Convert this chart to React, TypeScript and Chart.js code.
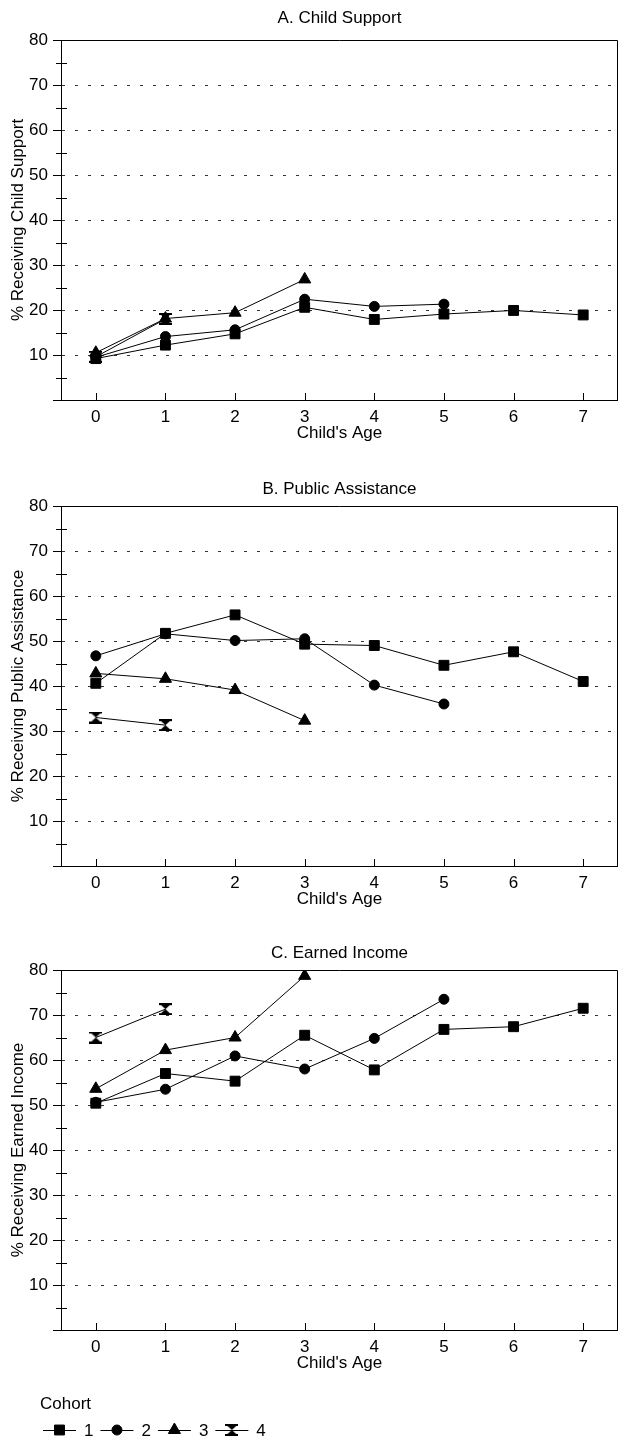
import { useEffect, useRef } from 'react';
import { Chart, registerables } from 'chart.js';
import { drawPoint } from 'chart.js/helpers';

Chart.register(...registerables);

// Child's age (x axis categories) and cohort names
const ages = ['0', '1', '2', '3', '4', '5', '6', '7'];
const cohortLabels = ['1', '2', '3', '4'];

// Minor tick positions on the percentage axis
const yMinorTicks = [5, 15, 25, 35, 45, 55, 65, 75];

// A. Child Support (% receiving), by cohort
const supportCohort1 = [9.2, 12.2, 14.7, 20.6, 17.9, 19.1, 19.9, 18.9];
const supportCohort2 = [9.5, 14.1, 15.6, 22.4, 20.8, 21.3];
const supportCohort3 = [10.5, 18.1, 19.4, 26.8];
const supportCohort4 = [9.6, 18.0];

// B. Public Assistance (% receiving), by cohort
const assistCohort1 = [40.6, 51.7, 55.8, 49.3, 49.0, 44.6, 47.6, 41.0];
const assistCohort2 = [46.7, 51.6, 50.1, 50.5, 40.2, 36.0];
const assistCohort3 = [42.8, 41.6, 39.1, 32.3];
const assistCohort4 = [33.0, 31.3];

// C. Earned Income (% receiving), by cohort
const earnedCohort1 = [50.4, 57.0, 55.3, 65.5, 57.8, 66.8, 67.4, 71.5];
const earnedCohort2 = [50.6, 53.5, 60.9, 58.0, 64.8, 73.5];
const earnedCohort3 = [53.6, 62.2, 65.0, 78.7];
const earnedCohort4 = [65.0, 71.3];

const FONT_FAMILY = "'Liberation Sans', Arial, Helvetica, sans-serif";
const FONT_SIZE = 17;
const LINE_H = FONT_SIZE * 1.2;
const WIDTH = 618;

// Filled hourglass marker used for cohort 4
function makeHourglass(): HTMLCanvasElement {
  const c = document.createElement('canvas');
  c.width = 13;
  c.height = 12;
  const g = c.getContext('2d')!;
  g.fillStyle = '#000';
  g.beginPath();
  g.moveTo(0.5, 0.5);
  g.lineTo(12.5, 0.5);
  g.lineTo(6.5, 6);
  g.lineTo(12.5, 11.5);
  g.lineTo(0.5, 11.5);
  g.lineTo(6.5, 6);
  g.closePath();
  g.fill();
  g.fillRect(0, 0, 13, 2);
  g.fillRect(0, 10, 13, 2);
  return c;
}

// Box frame, minor y ticks and inward x ticks
const framePlugin = {
  id: 'frame',
  beforeDatasetsDraw(chart: any) {
    const { ctx, chartArea: a, scales } = chart;
    const xs = scales.x;
    const ys = scales.y;
    ctx.save();
    ctx.strokeStyle = '#000';
    ctx.lineWidth = 1;
    ctx.beginPath();
    ctx.moveTo(a.left, a.top + 0.5);
    ctx.lineTo(a.right - 0.5, a.top + 0.5);
    ctx.lineTo(a.right - 0.5, a.bottom);
    for (const v of yMinorTicks) {
      const py = Math.round(ys.getPixelForValue(v)) + 0.5;
      ctx.moveTo(a.left - 5, py);
      ctx.lineTo(a.left + 6, py);
    }
    ages.forEach((_, i) => {
      const px = Math.round(xs.getPixelForValue(i)) + 0.5;
      ctx.moveTo(px, a.bottom);
      ctx.lineTo(px, a.bottom - 7);
    });
    ctx.stroke();
    ctx.restore();
  },
};

// "Cohort" key with line-and-marker swatches
const cohortLegend = {
  id: 'cohortLegend',
  afterDraw(chart: any) {
    const ctx = chart.ctx;
    const base = chart.chartArea.bottom;
    ctx.save();
    ctx.fillStyle = '#000';
    ctx.strokeStyle = '#000';
    ctx.lineWidth = 1;
    ctx.font = `${FONT_SIZE}px ${FONT_FAMILY}`;
    ctx.textBaseline = 'middle';
    ctx.textAlign = 'left';
    ctx.fillText('Cohort', 40, base + 74);
    const y = base + 100;
    let x = 43;
    chart.data.datasets.forEach((ds: any, i: number) => {
      const el = chart.getDatasetMeta(i).data[0];
      const o = el.options;
      ctx.beginPath();
      ctx.moveTo(x, y + 0.5);
      ctx.lineTo(x + 33, y + 0.5);
      ctx.stroke();
      drawPoint(ctx, { pointStyle: o.pointStyle, radius: o.radius, rotation: 0, borderWidth: o.borderWidth }, x + 16.5, y);
      ctx.fillText(ds.label, x + 41, y + 1);
      x += 41 + ctx.measureText(ds.label).width + 7;
    });
    ctx.restore();
  },
};

type PanelProps = {
  title: string;
  yTitle: string;
  series: number[][];
  top: number;
  height: number;
  titleCenter: number;
  withLegend?: boolean;
};

function Panel({ title, yTitle, series, top, height, titleCenter, withLegend }: PanelProps) {
  const ref = useRef<HTMLCanvasElement>(null);

  useEffect(() => {
    const canvas = ref.current;
    if (!canvas) return;
    const font = { family: FONT_FAMILY, size: FONT_SIZE, lineHeight: 1.2, weight: 'normal' };
    const hourglass = makeHourglass();
    const markers: any[] = [
      { pointStyle: 'rect', pointRadius: 7 },
      { pointStyle: 'circle', pointRadius: 5 },
      { pointStyle: 'triangle', pointRadius: 7 },
      { pointStyle: hourglass, pointRadius: 6 },
    ];
    const titleTop = titleCenter - LINE_H / 2;

    const chart = new Chart(canvas, {
      type: 'line',
      data: {
        labels: ages,
        datasets: series.map((values, i) => ({
          label: cohortLabels[i],
          data: values,
          borderColor: '#000',
          borderWidth: 1,
          backgroundColor: '#000',
          pointBackgroundColor: '#000',
          pointBorderColor: '#000',
          pointBorderWidth: 1,
          pointStyle: markers[i].pointStyle,
          pointRadius: markers[i].pointRadius,
          pointHoverRadius: markers[i].pointRadius,
          tension: 0,
          fill: false,
        })),
      },
      options: {
        responsive: false,
        animation: false,
        devicePixelRatio: 1,
        events: [],
        layout: { autoPadding: false, padding: { left: 0, right: 0, top: 0, bottom: height - 445 } },
        plugins: {
          legend: { display: false },
          tooltip: { enabled: false },
          title: {
            display: true,
            text: title,
            color: '#000',
            font,
            fullSize: false,
            padding: { top: titleTop, bottom: 40 - titleTop - LINE_H },
          },
        },
        scales: {
          x: {
            type: 'category',
            offset: true,
            ticks: { color: '#000', font, padding: 17 - LINE_H / 2, autoSkip: false, maxRotation: 0 },
            grid: { display: false, drawTicks: false },
            border: { display: true, color: '#000', width: 1 },
            title: { display: true, text: "Child's Age", color: '#000', font, padding: { top: 0, bottom: 12 - LINE_H / 2 } },
            afterFit: (s: any) => {
              s.height = 45;
              s.paddingLeft = 0;
              s.paddingRight = 0;
            },
          },
          y: {
            min: 0,
            max: 80,
            ticks: {
              stepSize: 10,
              color: '#000',
              font,
              padding: 5,
              callback: (v: any) => (Number(v) === 0 ? '' : String(v)),
            },
            grid: {
              color: (c: any) => (c.tick && c.tick.value > 0 && c.tick.value < 80 ? '#333' : 'rgba(0,0,0,0)'),
              tickColor: '#000',
              tickLength: 8,
              drawTicks: true,
              lineWidth: 1,
            },
            border: { display: true, color: '#000', width: 1, dash: [3, 10] },
            title: { display: true, text: yTitle, color: '#000', font, padding: { top: 18 - LINE_H / 2, bottom: 0 } },
            afterFit: (s: any) => {
              s.width = 61;
            },
          },
        },
      },
      plugins: withLegend ? [framePlugin, cohortLegend] : [framePlugin],
    } as any);

    return () => chart.destroy();
  }, [title, yTitle, series, height, titleCenter, withLegend]);

  return (
    <canvas
      ref={ref}
      width={WIDTH}
      height={height}
      style={{ position: 'absolute', left: 0, top, width: WIDTH, height, display: 'block' }}
    />
  );
}

const supportSeries = [supportCohort1, supportCohort2, supportCohort3, supportCohort4];
const assistSeries = [assistCohort1, assistCohort2, assistCohort3, assistCohort4];
const earnedSeries = [earnedCohort1, earnedCohort2, earnedCohort3, earnedCohort4];

export default function App() {
  return (
    <div style={{ position: 'absolute', left: 0, top: 0, width: WIDTH, height: 1439, background: '#fff' }}>
      <Panel title="A. Child Support" yTitle="% Receiving Child Support" series={supportSeries} top={0} height={466} titleCenter={18} />
      <Panel title="B. Public Assistance" yTitle="% Receiving Public Assistance" series={assistSeries} top={466} height={464} titleCenter={23} />
      <Panel title="C. Earned Income" yTitle="% Receiving Earned Income" series={earnedSeries} top={930} height={509} titleCenter={23} withLegend />
    </div>
  );
}
